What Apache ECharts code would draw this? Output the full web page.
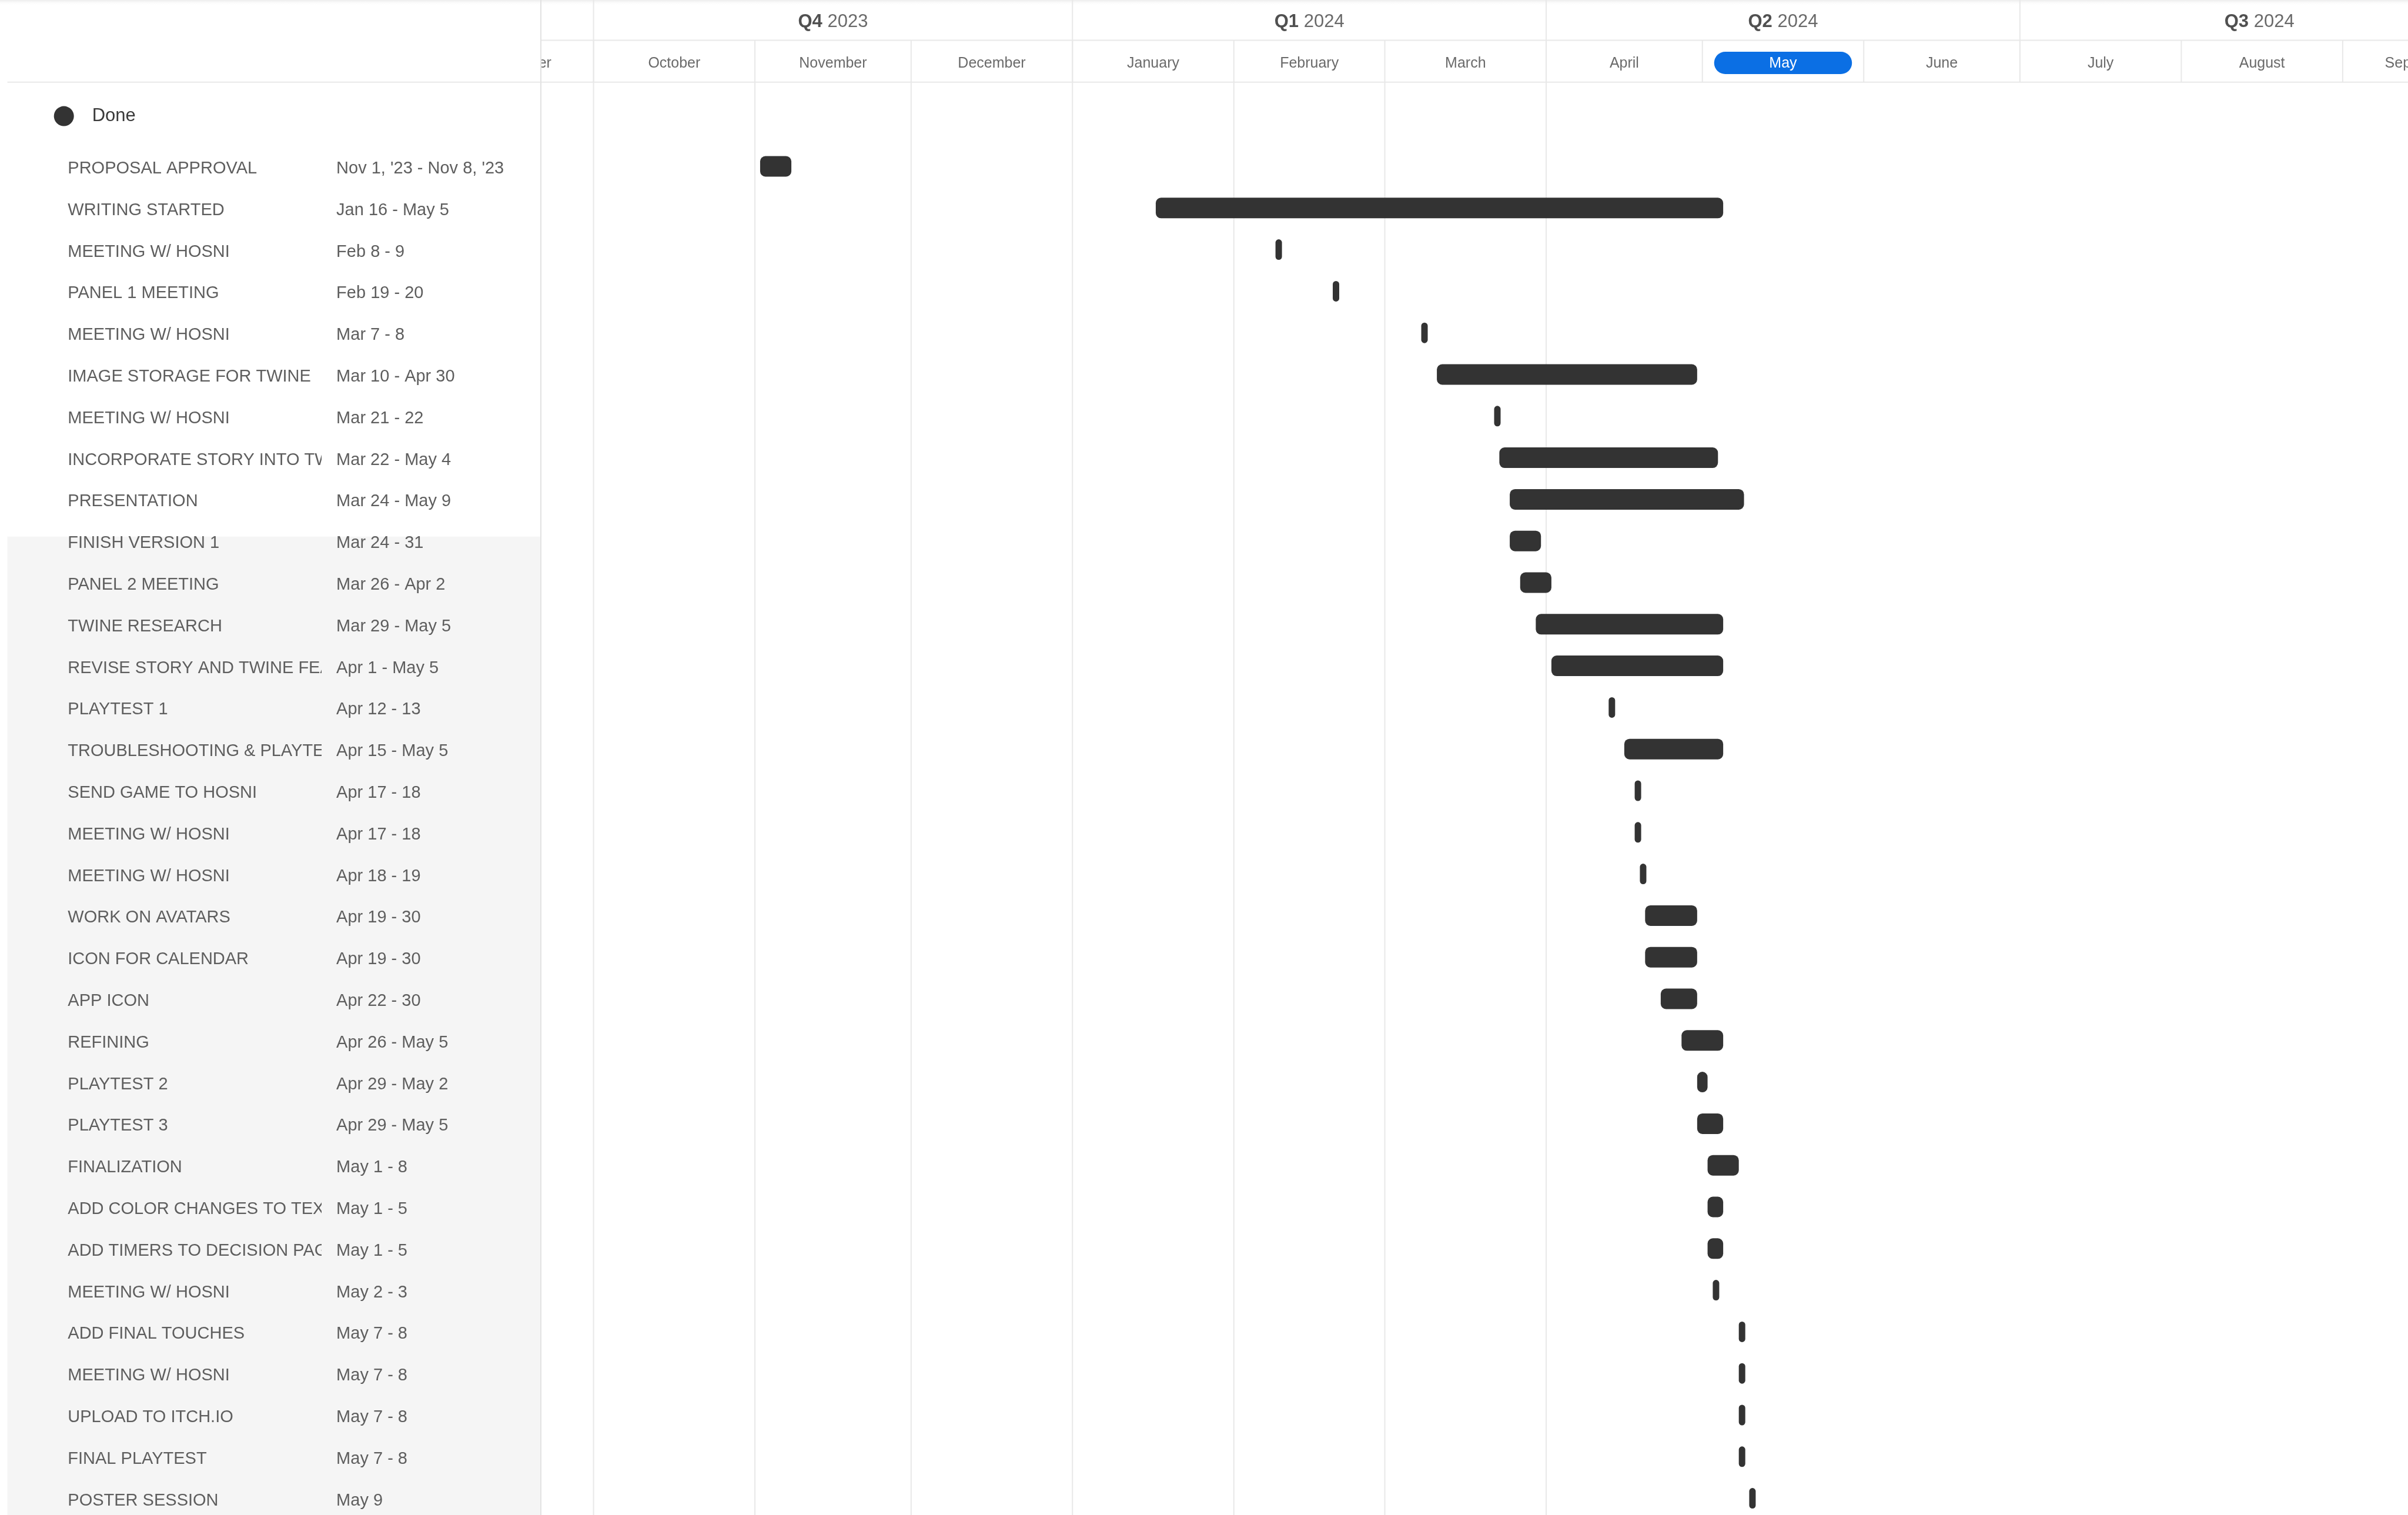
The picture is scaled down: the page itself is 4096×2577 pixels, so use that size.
<!DOCTYPE html>
<html><head><meta charset="utf-8">
<script src="https://cdn.jsdelivr.net/npm/echarts@6/dist/echarts.min.js"></script>
<style>html,body{margin:0;padding:0;background:#fff;overflow:hidden}#c{width:4096px;height:2577px}</style>
</head><body><div id="c"></div>
<script>
// ---------------- DATA ----------------
const taskNames = [
  'PROPOSAL APPROVAL','WRITING STARTED','MEETING W/ HOSNI','PANEL 1 MEETING','MEETING W/ HOSNI',
  'IMAGE STORAGE FOR TWINE','MEETING W/ HOSNI','INCORPORATE STORY INTO TWINE','PRESENTATION','FINISH VERSION 1',
  'PANEL 2 MEETING','TWINE RESEARCH','REVISE STORY AND TWINE FEATURES','PLAYTEST 1','TROUBLESHOOTING & PLAYTESTING',
  'SEND GAME TO HOSNI','MEETING W/ HOSNI','MEETING W/ HOSNI','WORK ON AVATARS','ICON FOR CALENDAR',
  'APP ICON','REFINING','PLAYTEST 2','PLAYTEST 3','FINALIZATION',
  'ADD COLOR CHANGES TO TEXT','ADD TIMERS TO DECISION PAGE','MEETING W/ HOSNI','ADD FINAL TOUCHES','MEETING W/ HOSNI',
  'UPLOAD TO ITCH.IO','FINAL PLAYTEST','POSTER SESSION'
];
const dateLabels = [
  "Nov 1, '23 - Nov 8, '23",'Jan 16 - May 5','Feb 8 - 9','Feb 19 - 20','Mar 7 - 8',
  'Mar 10 - Apr 30','Mar 21 - 22','Mar 22 - May 4','Mar 24 - May 9','Mar 24 - 31',
  'Mar 26 - Apr 2','Mar 29 - May 5','Apr 1 - May 5','Apr 12 - 13','Apr 15 - May 5',
  'Apr 17 - 18','Apr 17 - 18','Apr 18 - 19','Apr 19 - 30','Apr 19 - 30',
  'Apr 22 - 30','Apr 26 - May 5','Apr 29 - May 2','Apr 29 - May 5','May 1 - 8',
  'May 1 - 5','May 1 - 5','May 2 - 3','May 7 - 8','May 7 - 8',
  'May 7 - 8','May 7 - 8','May 9'
];
const startDates = [
  '2023-11-01','2024-01-16','2024-02-08','2024-02-19','2024-03-07',
  '2024-03-10','2024-03-21','2024-03-22','2024-03-24','2024-03-24',
  '2024-03-26','2024-03-29','2024-04-01','2024-04-12','2024-04-15',
  '2024-04-17','2024-04-17','2024-04-18','2024-04-19','2024-04-19',
  '2024-04-22','2024-04-26','2024-04-29','2024-04-29','2024-05-01',
  '2024-05-01','2024-05-01','2024-05-02','2024-05-07','2024-05-07',
  '2024-05-07','2024-05-07','2024-05-09'
];
const endDates = [
  '2023-11-08','2024-05-05','2024-02-09','2024-02-20','2024-03-08',
  '2024-04-30','2024-03-22','2024-05-04','2024-05-09','2024-03-31',
  '2024-04-02','2024-05-05','2024-05-05','2024-04-13','2024-05-05',
  '2024-04-18','2024-04-18','2024-04-19','2024-04-30','2024-04-30',
  '2024-04-30','2024-05-05','2024-05-02','2024-05-05','2024-05-08',
  '2024-05-05','2024-05-05','2024-05-03','2024-05-08','2024-05-08',
  '2024-05-08','2024-05-08','2024-05-10'
];
const legendLabel = 'Done';
const monthNames = ['September','October','November','December','January','February','March','April','May','June','July','August','September'];
const monthStarts = ['2023-09-01','2023-10-01','2023-11-01','2023-12-01','2024-01-01','2024-02-01','2024-03-01','2024-04-01','2024-05-01','2024-06-01','2024-07-01','2024-08-01','2024-09-01','2024-10-01'];
const quarterNames = ['Q3','Q4','Q1','Q2','Q3'];
const quarterYears = ['2023','2023','2024','2024','2024'];
const quarterStarts = ['2023-07-01','2023-10-01','2024-01-01','2024-04-01','2024-07-01','2024-10-01'];
const highlightMonth = '2024-05-01';
const gridLineDates = ['2023-10-01','2023-11-01','2023-12-01','2024-01-01','2024-02-01','2024-03-01','2024-04-01'];

// ---------------- LAYOUT ----------------
const W = 4096, H = 2577;
const DAY = 86400000;
const PANEL_RIGHT = 920;
const OCT1_X = 1009.6, PX_PER_DAY = 8.855;
const HEADER_MID = 68.5, HEADER_BOTTOM = 139.7;
const ROW0_Y = 283, ROW_H = 70.8, TEXT_DY = 4;
const BAR_H = 35, BAR_R = 9, MIN_BAR_W = 11;
const NAME_X = 115.3, DATE_X = 572.1, NAME_CLIP_R = 547;
const FONT_FAMILY = '"Liberation Sans", Arial, sans-serif';
const LINE_COLOR = '#e8e8e8';

function toTs(s){ const p = s.split('-').map(Number); return new Date(p[0], p[1]-1, p[2]).getTime(); }
const refTs = toTs('2023-10-01');
const xMin = refTs - (OCT1_X - PANEL_RIGHT) / PX_PER_DAY * DAY;
const xMax = refTs + (W - OCT1_X) / PX_PER_DAY * DAY;
const yMin = -(ROW0_Y - HEADER_BOTTOM) / ROW_H;
const yMax = (H - ROW0_Y) / ROW_H;

const barData = taskNames.map((n, i) => [toTs(startDates[i]), toTs(endDates[i]), i]);
const labelData = taskNames.map((n, i) => [toTs(startDates[i]), i]);
const monthData = monthNames.map((n, i) => [toTs(monthStarts[i]), toTs(monthStarts[i+1]), i]);
const quarterData = quarterNames.map((n, i) => [toTs(quarterStarts[i]), toTs(quarterStarts[i+1]), i]);
const gridData = gridLineDates.map(d => [toTs(d), 0]);
const highlightTs = toTs(highlightMonth);

function renderBar(params, api){
  const row = api.value(2);
  const p0 = api.coord([api.value(0) + DAY, row]);
  const p1 = api.coord([api.value(1), row]);
  let x0 = p0[0], x1 = p1[0];
  if (x1 - x0 < MIN_BAR_W){ x0 = Math.min(x0, x1); x1 = x0 + MIN_BAR_W; }
  const w = x1 - x0;
  return {type:'rect', shape:{x:x0, y:p0[1]-BAR_H/2, width:w, height:BAR_H, r:Math.min(BAR_R, w/2)},
          style:{fill: api.visual('color')}};
}
function renderLabel(params, api){
  const i = params.dataIndex;
  const y = api.coord([api.value(0), api.value(1)])[1] + TEXT_DY;
  const base = {textVerticalAlign:'middle', textAlign:'left', fill:'#5e5e5e', font:'29px ' + FONT_FAMILY};
  return {type:'group', children:[
    {type:'group',
      clipPath:{type:'rect', shape:{x:NAME_X - 10, y:y - 30, width:NAME_CLIP_R - NAME_X + 10, height:60}},
      children:[{type:'text', style:Object.assign({}, base, {text:taskNames[i], x:NAME_X, y:y})}]},
    {type:'text', style:Object.assign({}, base, {text:dateLabels[i], x:DATE_X, y:y})}
  ]};
}
function renderGridLine(params, api){
  const x = api.coord([api.value(0), yMin])[0];
  const cs = params.coordSys;
  return {type:'line', shape:{x1:x, y1:cs.y, x2:x, y2:cs.y + cs.height}, style:{stroke:LINE_COLOR, lineWidth:2}};
}
function renderMonth(params, api){
  const i = params.dataIndex;
  const x0 = api.coord([api.value(0), 0])[0];
  const x1 = api.coord([api.value(1), 0])[0];
  const cx = (x0 + x1) / 2;
  const hl = api.value(0) === highlightTs;
  const children = [
    {type:'line', shape:{x1:x0, y1:HEADER_MID, x2:x0, y2:HEADER_BOTTOM}, style:{stroke:LINE_COLOR, lineWidth:2}}
  ];
  if (hl){
    children.push({type:'rect', shape:{x:x0+20, y:88, width:(x1-x0)-40, height:38, r:19}, style:{fill:'#0b6fe4'}});
  }
  children.push({type:'text', style:{text:monthNames[i], x:cx, y:108.5, textAlign:'center', textVerticalAlign:'middle',
    fill: hl ? '#ffffff' : '#6a6a6a', font:'25px ' + FONT_FAMILY}});
  return {type:'group', children};
}
function renderQuarter(params, api){
  const i = params.dataIndex;
  const x0 = api.coord([api.value(0), 0])[0];
  const x1 = api.coord([api.value(1), 0])[0];
  const cx = (x0 + x1) / 2;
  return {type:'group', children:[
    {type:'line', shape:{x1:x0, y1:0, x2:x0, y2:HEADER_BOTTOM}, style:{stroke:LINE_COLOR, lineWidth:2}},
    {type:'text', style:{text:'{b|' + quarterNames[i] + '} ' + quarterYears[i], x:cx, y:37.5, textAlign:'center', textVerticalAlign:'middle',
      fill:'#6a6a6a', font:'31px ' + FONT_FAMILY,
      rich:{b:{fontWeight:'bold', fontSize:31, fontFamily:FONT_FAMILY, fill:'#505050', color:'#505050'}}}}
  ]};
}

const chart = echarts.init(document.getElementById('c'), null, {renderer:'canvas', width:W, height:H});
chart.setOption({
  animation:false,
  backgroundColor:'#ffffff',
  legend:{data:[legendLabel], left:86.7, top:175.6, itemWidth:34, itemHeight:34, icon:'circle',
    selectedMode:false,
    textStyle:{fontSize:31, color:'#3a3a3a', fontFamily:FONT_FAMILY, padding:[0,0,0,26]}},
  grid:[
    {left:PANEL_RIGHT, right:0, top:HEADER_BOTTOM, bottom:0},
    {left:PANEL_RIGHT, right:0, top:0, height:HEADER_BOTTOM}
  ],
  xAxis:[
    {type:'time', gridIndex:0, min:xMin, max:xMax, show:false},
    {type:'time', gridIndex:1, min:xMin, max:xMax, show:false}
  ],
  yAxis:[
    {type:'value', gridIndex:0, min:yMin, max:yMax, inverse:true, show:false},
    {type:'value', gridIndex:1, min:0, max:1, show:false}
  ],
  graphic:{elements:[
    {type:'rect', z:0, shape:{x:12.6, y:912.7, width:PANEL_RIGHT-12.6, height:H-912.7}, style:{fill:'#f5f5f5'}},
    {type:'rect', z:0, shape:{x:0, y:0, width:W, height:9},
      style:{fill:new echarts.graphic.LinearGradient(0,0,0,1,[{offset:0,color:'#ececec'},{offset:1,color:'rgba(255,255,255,0)'}])}},
    {type:'line', z:10, shape:{x1:PANEL_RIGHT, y1:HEADER_MID, x2:W, y2:HEADER_MID}, style:{stroke:LINE_COLOR, lineWidth:2}},
    {type:'line', z:10, shape:{x1:12.6, y1:HEADER_BOTTOM, x2:W, y2:HEADER_BOTTOM}, style:{stroke:LINE_COLOR, lineWidth:2}},
    {type:'line', z:10, shape:{x1:PANEL_RIGHT, y1:0, x2:PANEL_RIGHT, y2:H}, style:{stroke:'#e2e2e2', lineWidth:2}}
  ]},
  series:[
    {type:'custom', name:'gridlines', xAxisIndex:0, yAxisIndex:0, z:1, silent:true, clip:true,
      renderItem:renderGridLine, data:gridData, encode:{x:0, y:1}},
    {type:'custom', name:legendLabel, xAxisIndex:0, yAxisIndex:0, z:3, clip:true,
      itemStyle:{color:'#333333'}, renderItem:renderBar, data:barData, encode:{x:[0,1], y:2}},
    {type:'custom', name:'labels', xAxisIndex:0, yAxisIndex:0, z:5, clip:false, silent:true,
      renderItem:renderLabel, data:labelData, encode:{x:0, y:1}},
    {type:'custom', name:'months', xAxisIndex:1, yAxisIndex:1, z:3, clip:true, silent:true,
      renderItem:renderMonth, data:monthData, encode:{x:[0,1]}},
    {type:'custom', name:'quarters', xAxisIndex:1, yAxisIndex:1, z:3, clip:true, silent:true,
      renderItem:renderQuarter, data:quarterData, encode:{x:[0,1]}}
  ]
});
</script>
</body></html>
